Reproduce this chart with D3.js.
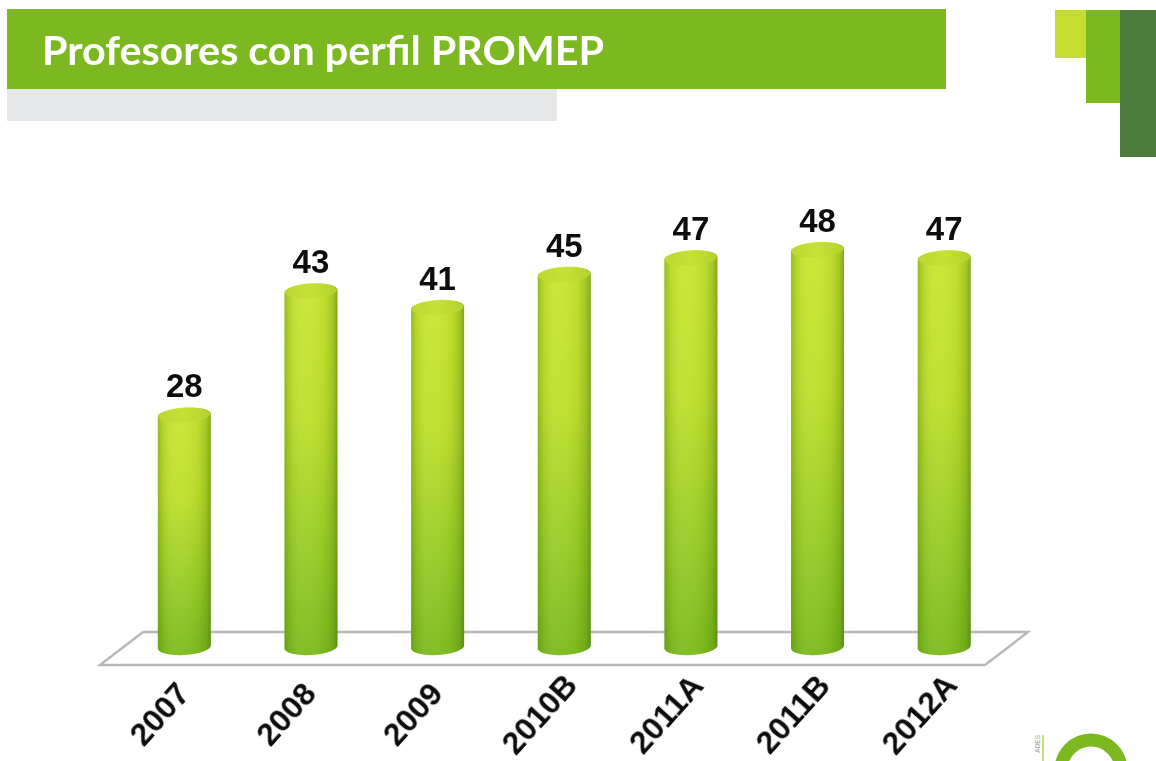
<!DOCTYPE html>
<html><head><meta charset="utf-8">
<script src="https://cdn.jsdelivr.net/npm/d3@7/dist/d3.min.js"></script>
<style>html,body{margin:0;padding:0;background:#fff;overflow:hidden}svg{display:block}</style>
</head><body><svg id="c" width="1156" height="761"></svg>
<script>
const categories = ["2007","2008","2009","2010B","2011A","2011B","2012A"];
const values = [28,43,41,45,47,48,47];
const titleText = "Profesores con perfil PROMEP";

const svg = d3.select("#c");
const defs = svg.append("defs");
function grad(id, dir, stops){
  const g = defs.append("linearGradient").attr("id",id)
    .attr("x1",0).attr("y1",0).attr("x2",dir==="h"?1:0).attr("y2",dir==="h"?0:1);
  stops.forEach(s=>g.append("stop").attr("offset",s[0]).attr("stop-color",s[1]).attr("stop-opacity",s[2]===undefined?1:s[2]));
}
grad("body","v",[[0,"#c8e530"],[0.35,"#bfdf2c"],[0.68,"#9bce26"],[1,"#7cba1f"]]);
grad("shade","h",[[0,"#3c6a0c",0.34],[0.1,"#4c7a10",0.14],[0.32,"#fff",0.05],[0.5,"#fff",0.04],[0.75,"#4c7a10",0.07],[0.92,"#3c6a0c",0.26],[1,"#2c5a08",0.46]]);
grad("cap","h",[[0,"#bcd932"],[0.5,"#c6e036"],[1,"#b4d22c"]]);
const soft = defs.append("filter").attr("id","soft").attr("x","-5%").attr("y","-5%").attr("width","110%").attr("height","110%");
soft.append("feGaussianBlur").attr("stdDeviation",0.55);

// slide furniture
svg.append("rect").attr("x",7).attr("y",89).attr("width",550).attr("height",32).attr("fill","#e6e7e9");
svg.append("rect").attr("x",7).attr("y",9).attr("width",939).attr("height",80).attr("fill","#7cb81f");
svg.append("text").text(titleText).attr("x",42).attr("y",65)
  .attr("font-family","Lato").attr("font-weight",700).attr("font-size",41).attr("fill","#fff")
  .attr("textLength",562).attr("lengthAdjust","spacingAndGlyphs").attr("filter","url(#soft)");
svg.append("rect").attr("x",1055).attr("y",10).attr("width",31).attr("height",48).attr("fill","#c5dc30");
svg.append("rect").attr("x",1086).attr("y",10).attr("width",35).attr("height",93).attr("fill","#7cb81f");
svg.append("rect").attr("x",1120).attr("y",10).attr("width",36).attr("height",147).attr("fill","#4b7a3a");

// scales
const x = d3.scaleBand().domain(categories).range([121,1007.5]).paddingInner(0).paddingOuter(0);
const barW = 53;
const y = d3.scaleLinear().domain([0,48]).range([647,250]);
const cx = d => x(d)+x.bandwidth()/2;
const ry = 8, tilt = -3.5;

// floor
const x0 = x.range()[0], x1 = x.range()[1];
const floorPts = [[x0-21,665],[x1-22.5,665],[x1+20.5,632],[x0+22,632]];
svg.append("polygon").attr("points",floorPts.map(p=>p.join(",")).join(" "))
  .attr("fill","#fff").attr("stroke","#b8b8b8").attr("stroke-width",2.4).attr("filter","url(#soft)");

// bars
const bars = svg.append("g").attr("filter","url(#soft)").selectAll("g").data(categories).join("g");
function shape(d, i){
  const v = values[i], c = cx(d), t = y(v), b = y(0), w = barW/2, dy = w*Math.tan(-tilt*Math.PI/180);
  return `M${c-w},${t+dy}L${c-w},${b+dy}A${w},${ry} ${tilt} 0 0 ${c+w},${b-dy}L${c+w},${t-dy}A${w},${ry} ${tilt} 0 0 ${c-w},${t+dy}Z`;
}
bars.append("path").attr("d",shape).attr("fill","url(#body)");
bars.append("path").attr("d",shape).attr("fill","url(#shade)");
bars.append("ellipse").attr("cx",d=>cx(d)).attr("cy",(d,i)=>y(values[i]))
  .attr("rx",barW/2-0.5).attr("ry",ry-0.8)
  .attr("transform",(d,i)=>`rotate(${tilt} ${cx(d)} ${y(values[i])})`)
  .attr("fill","url(#cap)");

// value labels
svg.append("g").selectAll("text").data(categories).join("text")
  .text((d,i)=>values[i]).attr("x",d=>cx(d)).attr("y",(d,i)=>y(values[i])-18)
  .attr("text-anchor","middle").attr("font-family","Liberation Sans").attr("font-weight",700)
  .attr("font-size",33).attr("fill","#111").attr("filter","url(#soft)");

// axis labels
svg.append("g").selectAll("text").data(categories).join("text")
  .text(d=>d).attr("text-anchor","middle").attr("font-family","Liberation Sans").attr("font-weight",700)
  .attr("font-size",32).attr("fill","#111").attr("filter","url(#soft)")
  .attr("transform",d=>`translate(${cx(d)-25},${714}) rotate(-48) translate(0,11)`);

// logo fragment
svg.append("circle").attr("cx",1091).attr("cy",770).attr("r",30).attr("fill","none").attr("stroke","#7cb81f").attr("stroke-width",13);
svg.append("line").attr("x1",1043).attr("x2",1043).attr("y1",735).attr("y2",761).attr("stroke","#b5cf5a").attr("stroke-width",1.5);
svg.append("text").text("ADES").attr("text-anchor","end").attr("font-family","Liberation Sans").attr("font-size",6.5).attr("fill","#999")
  .attr("transform","translate(1040,735) rotate(-90)");
</script></body></html>
